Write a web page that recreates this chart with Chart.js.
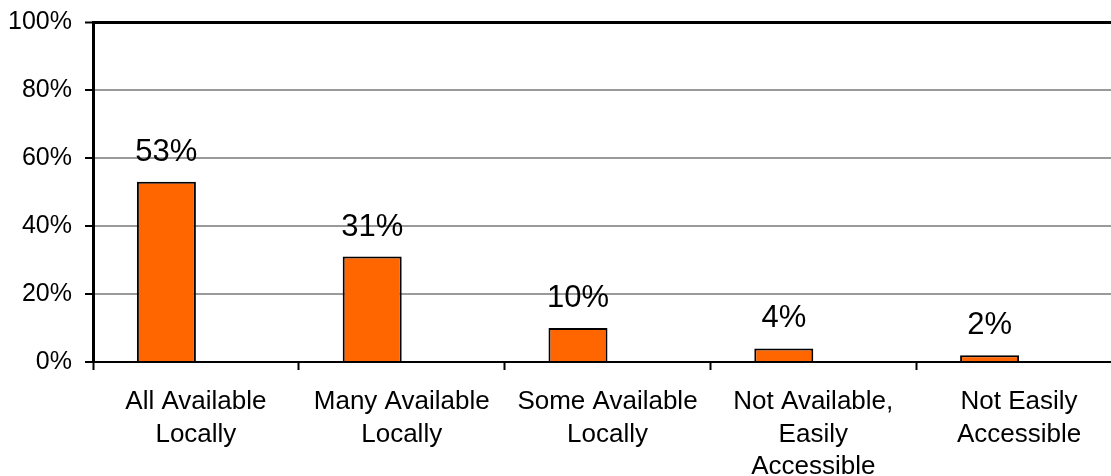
<!DOCTYPE html>
<html>
<head>
<meta charset="utf-8">
<script src="https://cdn.jsdelivr.net/npm/chart.js@4"></script>
<style>
  html, body { margin: 0; padding: 0; background: #fff; overflow: hidden; }
  #wrap { width: 1130px; height: 476px; }
</style>
</head>
<body>
<div id="wrap"><canvas id="c" width="1130" height="476"></canvas></div>
<script>
const categories = [
  ['All Available', 'Locally'],
  ['Many Available', 'Locally'],
  ['Some Available', 'Locally'],
  ['Not Available,', 'Easily', 'Accessible'],
  ['Not Easily', 'Accessible']
];
const shares = [53, 31, 10, 4, 2];
const yTicks = [0, 20, 40, 60, 80, 100];

const FONT = '"Liberation Sans", Arial, Helvetica, sans-serif';
const BAR_COLOR = '#ff6600';

// draws "53%" etc above each bar
const valueLabels = {
  id: 'valueLabels',
  afterDatasetsDraw(chart) {
    const ctx = chart.ctx;
    const meta = chart.getDatasetMeta(0);
    ctx.save();
    ctx.font = '31px ' + FONT;
    ctx.fillStyle = '#000';
    ctx.textAlign = 'center';
    ctx.textBaseline = 'alphabetic';
    meta.data.forEach((bar, i) => {
      ctx.fillText(shares[i] + '%', bar.x, bar.y - 21);
    });
    ctx.restore();
  }
};

new Chart(document.getElementById('c'), {
  type: 'bar',
  data: {
    labels: categories,
    datasets: [
      {
        data: shares,
        backgroundColor: BAR_COLOR,
        borderColor: '#000',
        borderWidth: 2,
        categoryPercentage: 0.5735,
        barPercentage: 1.0
      },
      {
        // empty second slot, keeps bars left of the category centre
        data: shares.map(() => null),
        categoryPercentage: 0.5735,
        barPercentage: 1.0
      }
    ]
  },
  options: {
    responsive: false,
    animation: false,
    layout: { padding: { top: 22, right: 8, left: 0, bottom: 0 } },
    plugins: { legend: { display: false }, tooltip: { enabled: false } },
    scales: {
      x: {
        grid: {
          offset: true,
          drawOnChartArea: false,
          drawTicks: true,
          tickLength: 8,
          tickColor: '#000',
          tickWidth: 2
        },
        border: { color: '#000', width: 2 },
        ticks: {
          color: '#000',
          font: { family: FONT, size: 26, lineHeight: 1.25 },
          padding: 16,
          maxRotation: 0,
          autoSkip: false
        },
        afterFit(scale) { scale.height = 476 - 362; }
      },
      y: {
        min: 0,
        max: 100,
        afterBuildTicks(scale) { scale.ticks = yTicks.map(v => ({ value: v })); },
        grid: {
          color: ctx => (ctx.tick && ctx.tick.value === 100) ? '#000' : '#9a9a9a',
          lineWidth: ctx => (ctx.tick && ctx.tick.value === 100) ? 3 : 2,
          tickLength: 8,
          tickColor: '#000',
          tickWidth: 2
        },
        border: { color: '#000', width: 3 },
        ticks: {
          color: '#000',
          font: { family: FONT, size: 25, lineHeight: 1 },
          padding: 13,
          callback: v => v + '%'
        },
        afterFit(scale) {
          scale.width = 93;
          scale.paddingTop = 0;
          scale.paddingBottom = 0;
        }
      }
    }
  },
  plugins: [valueLabels]
});
</script>
</body>
</html>
